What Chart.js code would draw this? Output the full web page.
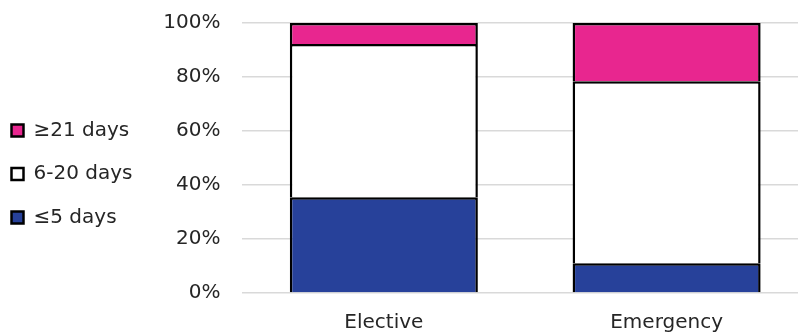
<!DOCTYPE html>
<html>
<head>
<meta charset="utf-8">
<script src="https://cdn.jsdelivr.net/npm/chart.js@4/dist/chart.umd.min.js"></script>
<style>
  html, body { margin: 0; padding: 0; background: #fff; overflow: hidden; }
  #wrap { position: relative; width: 798px; height: 336px; overflow: hidden; }
  #stayChart { position: absolute; left: -12px; top: 0; }
</style>
</head>
<body>
<div id="wrap"><canvas id="stayChart" width="820" height="353"></canvas></div>
<script>
const categories = ["Elective", "Emergency"];
const seriesNames = ["≤5 days", "6-20 days", "≥21 days"];
const shortStay = [35.5, 11.0];
const midStay = [56.7, 67.4];
const longStay = [7.8, 21.6];
const yTicks = [0, 20, 40, 60, 80, 100];

const textColor = "#262626";
const font = { family: "'DejaVu Sans', sans-serif", size: 20 };

// nudge the legend up a little, it sits slightly above the middle in the original
const legendShift = {
    id: "legendShift",
    afterLayout(chart) {
        chart.legend.top -= 3;
        chart.legend.bottom -= 3;
    }
};

const ctx = document.getElementById("stayChart").getContext("2d");
new Chart(ctx, {
    type: "bar",
    data: {
        labels: categories,
        datasets: [
            { label: seriesNames[0], data: shortStay, backgroundColor: "#27419a" },
            { label: seriesNames[1], data: midStay, backgroundColor: "#ffffff" },
            { label: seriesNames[2], data: longStay, backgroundColor: "#e8268f" }
        ].map(d => Object.assign(d, {
            borderColor: "#000000",
            borderWidth: 2.5,
            categoryPercentage: 1,
            barPercentage: 0.665
        }))
    },
    options: {
        responsive: false,
        animation: false,
        layout: { padding: { top: 1, bottom: 0, left: 0, right: 0 } },
        plugins: {
            legend: {
                position: "left",
                reverse: true,
                labels: {
                    boxWidth: 12,
                    boxHeight: 12,
                    padding: 23.5,
                    color: textColor,
                    font: font
                }
            },
            tooltip: { enabled: false }
        },
        scales: {
            x: {
                stacked: true,
                grid: { display: false, drawTicks: false },
                border: { display: false },
                ticks: { color: textColor, font: font, padding: 18 }
            },
            y: {
                stacked: true,
                min: 0,
                max: 100,
                afterBuildTicks: scale => {
                    scale.ticks = yTicks.map(v => ({ value: v }));
                },
                afterFit: scale => {
                    scale.width = 100;
                    scale.paddingTop = 23;
                    scale.paddingBottom = 0;
                },
                grid: { color: "#d9d9d9", lineWidth: 1.5, drawTicks: false },
                border: { display: false },
                ticks: {
                    color: textColor,
                    font: font,
                    padding: 22,
                    callback: v => v + "%"
                }
            }
        }
    },
    plugins: [legendShift]
});
</script>
</body>
</html>
